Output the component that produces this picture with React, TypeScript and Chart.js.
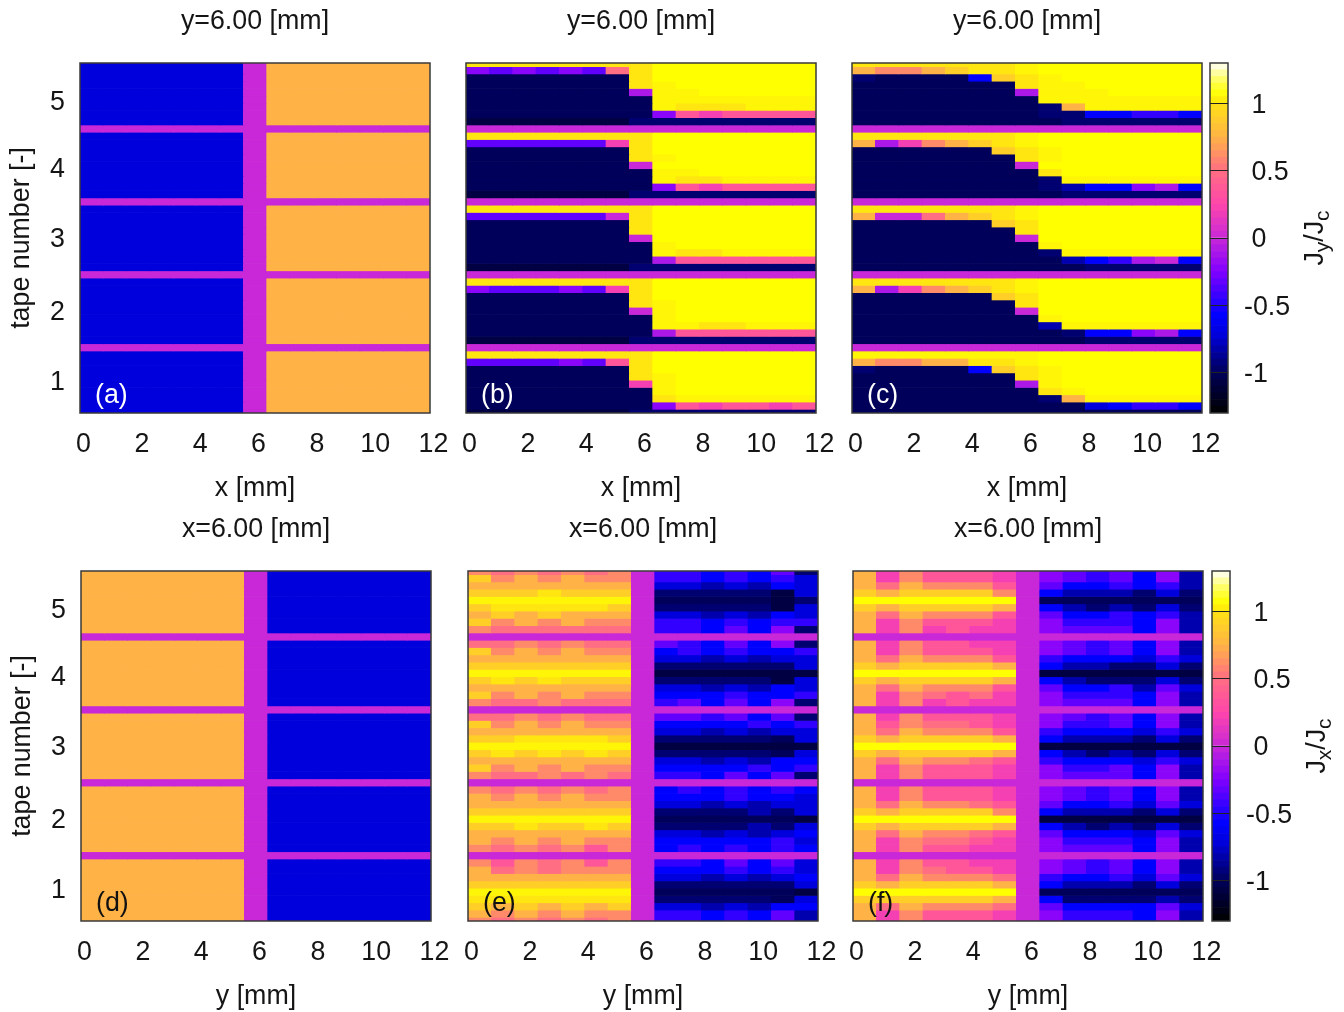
import React, { useEffect, useRef } from "react";
import { Chart, registerables } from "chart.js";

Chart.register(...registerables);

const FONT = "'Liberation Sans', Arial, sans-serif";
const FS = 26.8;
const INK = "#151515";

// value of each shade letter, J/Jc
const shadeValues: Record<string, number> = {
  K: -1.08, N: -1.0, M: -0.95, B: -0.82, C: -0.72, D: -0.58, E: -0.45, F: -0.33, G: -0.22, H: -0.1,
  Z: 0, P: 0.2, Q: 0.35, R: 0.5, S: 0.6, T: 0.745, U: 0.9, V: 1.01, W: 1.04, Y: 1.06,
};

const paletteStops: [number, number, number, number][] = [
  [-1.3, 0, 0, 0], [-1.0, 0, 0, 90], [-0.72, 0, 0, 220], [-0.58, 0, 0, 255], [-0.5, 30, 0, 255],
  [-0.25, 130, 0, 255], [0, 200, 40, 215], [0.25, 255, 70, 170], [0.5, 255, 110, 130],
  [0.75, 255, 180, 70], [1.0, 255, 225, 20], [1.06, 255, 255, 0], [1.15, 255, 255, 70], [1.3, 255, 255, 255],
];

const colorbarLevels = [
  -1.3, -1.25, -1.2, -1.15, -1.1, -1.05, -1.0, -0.95, -0.9, -0.85, -0.8, -0.75, -0.7, -0.65, -0.6, -0.55, -0.5,
  -0.45, -0.4, -0.35, -0.3, -0.25, -0.2, -0.15, -0.1, -0.05, 0, 0.05, 0.1, 0.15, 0.2, 0.25, 0.3, 0.35, 0.4, 0.45,
  0.5, 0.55, 0.6, 0.65, 0.7, 0.75, 0.8, 0.85, 0.9, 0.95, 1.0, 1.05, 1.1, 1.15, 1.2, 1.25,
];
const colorbarTicks = [-1, -0.5, 0, 0.5, 1];

const xTicks = [0, 2, 4, 6, 8, 10, 12];
const tapeLabels = ["1", "2", "3", "4", "5"];
const tapeLabelPositions = [1.04, 2.01, 3.01, 3.97, 4.88];
const columnCentres = [0.4, 1.2, 2.0, 2.8, 3.6, 4.4, 5.2, 6.0, 6.8, 7.6, 8.4, 9.2, 10.0, 10.8, 11.6];
const rowCentres = [
  5.4, 5.3, 5.2, 5.1, 5.0, 4.9, 4.8, 4.7, 4.6, 4.5, 4.4, 4.3, 4.2, 4.1, 4.0, 3.9, 3.8, 3.7, 3.6, 3.5, 3.4, 3.3, 3.2,
  3.1, 3.0, 2.9, 2.8, 2.7, 2.6, 2.5, 2.4, 2.3, 2.2, 2.1, 2.0, 1.9, 1.8, 1.7, 1.6, 1.5, 1.4, 1.3, 1.2, 1.1, 1.0, 0.9,
  0.8, 0.7, 0.6,
];

const band = "ZZZZZZZZZZZZZZZ";
const a_ = "CCCCCCCZTTTTTTT";
const d_ = "TTTTTTTZCCCCCCC";

const panelA = [
  a_, a_, a_, a_, a_, a_, a_, a_, a_, band, a_, a_, a_, a_, a_, a_, a_, a_, a_, band, a_, a_, a_, a_, a_, a_, a_, a_, a_,
  band, a_, a_, a_, a_, a_, a_, a_, a_, a_, band, a_, a_, a_, a_, a_, a_, a_, a_, a_,
];
const panelD = [
  d_, d_, d_, d_, d_, d_, d_, d_, d_, band, d_, d_, d_, d_, d_, d_, d_, d_, d_, band, d_, d_, d_, d_, d_, d_, d_, d_, d_,
  band, d_, d_, d_, d_, d_, d_, d_, d_, d_, band, d_, d_, d_, d_, d_, d_, d_, d_, d_,
];

const panelB = [
  "VVVVVVVVYYYYYYY", "GFGFGFRVYYYYYYY", "NNNNNNNVYYYYYYY", "NNNNNNNVWYYYYYY", "NNNNNNNHWWYYYYY",
  "NNNNNNNNWWWWWWW", "NNNNNNNNWVVVWWW", "NNNNNNNNGQPQQQQ", "KKKKKKKMMMMMMMM", band,
  "VVVVVVVVYYYYYYY", "FFFFFFPVYYYYYYY", "NNNNNNNVYYYYYYY", "NNNNNNNVWYYYYYY", "NNNNNNNZYYYYYYY",
  "NNNNNNNNWWYYYYY", "NNNNNNNNWVVWWWW", "NNNNNNNNGQPQQQQ", "KKKKKKKMMMMMMMM", band,
  "VVVVVVVVYYYYYYY", "FFFFFFZVYYYYYYY", "NNNNNNNVYYYYYYY", "NNNNNNNVYYYYYYY", "NNNNNNNZYYYYYYY",
  "NNNNNNNNWYYYYYY", "NNNNNNNNWVVWWWW", "NNNNNNNNHQQQQQQ", "KKKKKKKMMMMMMMM", band,
  "VVVVVVVVYYYYYYY", "GFFFGFPVYYYYYYY", "NNNNNNNVYYYYYYY", "NNNNNNNVWYYYYYY", "NNNNNNNZWYYYYYY",
  "NNNNNNNNWYYYYYY", "NNNNNNNNWWVVWWW", "NNNNNNNNHQQQQQQ", "KKKKKKKMMMMMMMM", band,
  "VVVVVVVVYYYYYYY", "FFFFGFQVYYYYYYY", "NNNNNNNVYYYYYYY", "NNNNNNNVWYYYYYY", "NNNNNNNPWYYYYYY",
  "NNNNNNNNWYYYYYY", "NNNNNNNNVWWWWWW", "NNNNNNNNGQPQQPQ", "KKKKKKKMMMMMMMM",
];

const panelC = [
  "VVVVVVVWYYYYYYY", "TSSTUVVWYYYYYYY", "MNNNNDUVWYYYYYY", "NNNNNNNVWWYYYYY", "NNNNNNNHWWWYYYY",
  "NNNNNNNNWWWWWWW", "NNNNNNNNMTWWWWW", "NNNNNNNNMMDDEED", "NNNNNNNNNMMMMMM", band,
  "VVVVVVVWYYYYYYY", "THPSTUVWYYYYYYY", "NNNNNNUVWYYYYYY", "NNNNNNNVWYYYYYY", "NNNNNNNZYYYYYYY",
  "NNNNNNNNVYYYYYY", "NNNNNNNNMWWWWWW", "NNNNNNNNMBDDGHD", "NNNNNNNNNMMMMMM", band,
  "VVVVVVVWYYYYYYY", "TZZRTUVWYYYYYYY", "NNNNNNUVYYYYYYY", "NNNNNNNVYYYYYYY", "NNNNNNNZYYYYYYY",
  "NNNNNNNNWYYYYYY", "NNNNNNNNMWWWWWW", "NNNNNNNNNBDEHZD", "NNNNNNNNNNMMMMM", band,
  "VVVVVVVWYYYYYYY", "THPSTUVWYYYYYYY", "NNNNNNUVYYYYYYY", "NNNNNNNVYYYYYYY", "NNNNNNNZYYYYYYY",
  "NNNNNNNNWYYYYYY", "NNNNNNNNBWWWWWW", "NNNNNNNNNMDDGHD", "NNNNNNNNNNMMMMM", band,
  "WWWWWWWWYYYYYYY", "TSSTTVVWYYYYYYY", "MNNNNDUVWYYYYYY", "NNNNNNNVWYYYYYY", "NNNNNNNHWYYYYYY",
  "NNNNNNNNVWYYYYY", "NNNNNNNNMTWWWWW", "NNNNNNNNNNCDEED", "NNNNNNNNNNNNNNN",
];

const panelE = [
  "SRSRSRSZEEDEDFM", "USTSTSSZEEDEDEC", "TTTTTTTZCCBCBDC", "UUUVUUUZMMMMMKC", "WWWWWWWZNNNNNKM",
  "UVVVVVUZMMMMMKC", "TUTUTTTZCCBCBDC", "USTSTSSZEEDEDEE", "SRRRRRRZEEDFDGM", band,
  "RRSRSRRZFEDFDGM", "USTSTSSZDEDEDDE", "TTTTTTTZCCBCBCC", "UUUUUUUZMMMMMMC", "WWWWWWWZKKKKKKK",
  "UVUVUUUZMMMMMKC", "TTTTTTTZCCBCBDC", "USTSTSSZDDDEDDE", "SRRSRRRZEFDFDGM", band,
  "RRSRSRRZFFEFDFM", "USTSTSSZDDDDEDE", "TTTTTTTZCCBCBCC", "UUVVVVUZMMMMMNC", "WWWWWWWZKKKKKKK",
  "UVUVUVUZMMMMMNC", "TTTTTTTZCCBCBDD", "USTSTSSZDDDDEDE", "SRRSRSRZEEDFDFM", band,
  "SRSRSRSZDEDEDED", "TSTSTSSZDDDEDDC", "TTTTTTTZCCBCBCC", "UUUUUUUZMMMMBMC", "WWWWWWWZNNNNNNK",
  "UUVUUVUZMMMMBMC", "TTTTTTTZCCBCBCD", "TSTSTSSZDDDDDEC", "SRSRSQSZDEDEDED", band,
  "SQSRSQSZEEDFDFC", "TRSRSSSZDDDEDEC", "TTTTTTTZCCBCBCD", "UUUUUUUZMMMMMMC", "WWWWWWWZNNNNNNK",
  "VVVVVVVZMMMMMNC", "UTUTUTUZCCBCBDD", "TSTSTSSZEEDEDFB", "SRSRSRSZEEDEDFB",
];

const panelF = [
  "TPSQQQPZGFEFDGB", "TPSQQQPZGFEFDGB", "TRTSSSQZFDDEDEB", "UTUUUUSZDBBBMCM", "YYYYYYYZNNNNNNN",
  "UTUUUUTZDBMBMCM", "TRTSSSQZFDDEDEB", "TPSQQQPZGEEEDGB", "TPSPQPPZGFFFDGB", band,
  "TPSQQPPZGFEFDGB", "TPSQQQPZGFEFDGB", "TRTSSSQZEDDDCEC", "UTUUUUTZDBBMMCM", "YYYYYYYZKKKKKKK",
  "UTUUUUTZDBMMMCM", "TRTSSSQZFDDEBFC", "TPSRQRPZGEEEDGB", "TPSPQPPZGFFFDGB", band,
  "TPSQQQPZGFEFDGB", "TQSRRQPZGEEFDGB", "TRTSSSQZEDDDCEC", "UTUUUUTZDBBBMCM", "YYYYYYYZKKKKKKK",
  "UTUUUUTZDBMBMCM", "TRTSSRQZEDDDCEC", "TPSQQQPZGEEFDGB", "TPSQQQPZGFFFDGB", band,
  "TPSQQQPZGFEFDGB", "TPSQQQPZGFEFDGB", "TRTSSRQZFDDECFC", "UTUUUUSZDBBBMCM", "YYYYYYYZKKKKKKK",
  "UTUUUUTZDBMBMCM", "TRTSSRQZFDDDCFC", "TPSRRQPZGEEEDGB", "TPSQQPPZGFFFDGB", band,
  "TPSQQPPZGFEFDGB", "TPSRQQPZGFEFDGB", "TRTSSSRZEDDECFC", "UTUUUUTZDBBBMCM", "YYYYYYYZNNNNNNN",
  "UUUUUUTZDMMMMBM", "TRTSSSRZFDDDDFC", "TPSQQQPZGEEEDGB", "TPSQQQPZGEEEDGB",
];

function colourOf(v: number): string {
  for (let i = 1; i < paletteStops.length; i++) {
    const [v1, r1, g1, b1] = paletteStops[i];
    const [v0, r0, g0, b0] = paletteStops[i - 1];
    if (v <= v1) {
      const t = (v - v0) / (v1 - v0);
      return `rgb(${Math.round(r0 + (r1 - r0) * t)},${Math.round(g0 + (g1 - g0) * t)},${Math.round(b0 + (b1 - b0) * t)})`;
    }
  }
  return "rgb(255,255,255)";
}

const framePlugin = {
  id: "frame",
  afterDatasetsDraw(chart: any) {
    const { left, top, width, height } = chart.chartArea;
    const ctx = chart.ctx;
    ctx.save();
    ctx.strokeStyle = "#3a3a3a";
    ctx.lineWidth = 1.5;
    ctx.strokeRect(left, top, width, height);
    ctx.restore();
  },
};

const panelTagPlugin = {
  id: "panelTag",
  afterDatasetsDraw(chart: any, _args: any, opts: any) {
    const ctx = chart.ctx;
    ctx.save();
    ctx.font = `${FS}px ${FONT}`;
    ctx.fillStyle = opts.color;
    ctx.textBaseline = "middle";
    ctx.textAlign = "left";
    ctx.fillText(opts.text, chart.chartArea.left + 15, chart.chartArea.bottom - 17);
    ctx.restore();
  },
};

const barTitlePlugin = {
  id: "barTitle",
  afterDraw(chart: any, _args: any, opts: any) {
    const ctx = chart.ctx;
    const parts: string[] = opts.parts;
    const big = `${FS}px ${FONT}`;
    const small = `${FS * 0.78}px ${FONT}`;
    ctx.save();
    ctx.font = big;
    let total = 0;
    parts.forEach((p, i) => {
      ctx.font = i % 2 ? small : big;
      total += ctx.measureText(p).width;
    });
    ctx.translate(chart.chartArea.right + 87, (chart.chartArea.top + chart.chartArea.bottom) / 2);
    ctx.rotate(-Math.PI / 2);
    ctx.fillStyle = INK;
    ctx.textAlign = "left";
    ctx.textBaseline = "alphabetic";
    let x = -total / 2;
    parts.forEach((p, i) => {
      ctx.font = i % 2 ? small : big;
      ctx.fillText(p, x, i % 2 ? 14 : 8);
      x += ctx.measureText(p).width;
    });
    ctx.restore();
  },
};

type PanelProps = {
  left: number;
  top: number;
  rows: string[];
  title: string;
  xName: string;
  tag: string;
  tagColor: string;
  showTape: boolean;
};

function HeatPanel({ left, top, rows, title, xName, tag, tagColor, showTape }: PanelProps) {
  const ref = useRef<HTMLCanvasElement>(null);
  useEffect(() => {
    const datasets = rows.map((row, r) => ({
      xAxisID: "x",
      yAxisID: "y",
      data: columnCentres.map((x) => ({ x, y: [rowCentres[r] - 0.05, rowCentres[r] + 0.05] })),
      backgroundColor: columnCentres.map((_, c) => colourOf(shadeValues[row[c]])),
      borderWidth: 0,
      barPercentage: 1,
      categoryPercentage: 1,
      grouped: false,
    }));
    const chart = new Chart(ref.current as HTMLCanvasElement, {
      type: "bar",
      data: { datasets } as any,
      plugins: [framePlugin, panelTagPlugin],
      options: {
        animation: false,
        responsive: false,
        events: [],
        plugins: {
          legend: { display: false },
          tooltip: { enabled: false },
          title: {
            display: true,
            text: title,
            color: INK,
            font: { family: FONT, size: FS, weight: "normal", lineHeight: 1.2 },
            padding: { top: 6, bottom: 24.84 },
          },
          panelTag: { text: tag, color: tagColor },
        } as any,
        scales: {
          x: {
            type: "linear",
            min: 0,
            max: 12,
            offset: false,
            grid: { display: false, drawTicks: false },
            border: { display: false },
            afterFit: (s: any) => { s.height = 92; },
            afterBuildTicks: (s: any) => { s.ticks = xTicks.map((value) => ({ value })); },
            ticks: {
              color: INK,
              font: { family: FONT, size: FS },
              padding: 16,
              labelOffset: 3.5,
              maxRotation: 0,
              autoSkip: false,
            },
            title: {
              display: true,
              text: xName,
              color: INK,
              font: { family: FONT, size: FS, lineHeight: 1.2 },
              padding: { top: 0, bottom: 0 },
            },
          },
          y: {
            type: "linear",
            min: 0.6,
            max: 5.4,
            grid: { display: false, drawTicks: false },
            border: { display: false },
            afterFit: (s: any) => { s.width = 80; },
            afterBuildTicks: (s: any) => { s.ticks = tapeLabelPositions.map((value) => ({ value })); },
            ticks: {
              display: showTape,
              color: INK,
              font: { family: FONT, size: FS },
              padding: 15,
              labelOffset: 2,
              autoSkip: false,
              callback: (_v: any, i: number) => tapeLabels[i],
            },
            title: {
              display: showTape,
              text: "tape number [-]",
              color: INK,
              font: { family: FONT, size: FS, lineHeight: 1.2 },
              padding: { top: 6, bottom: 0 },
            },
          },
          spacer: {
            type: "linear",
            axis: "y",
            position: "right",
            grid: { display: false, drawTicks: false },
            border: { display: false },
            ticks: { display: false },
            afterFit: (s: any) => { s.width = 80; },
          },
        },
      } as any,
    });
    return () => chart.destroy();
  }, []);
  return (
    <canvas
      ref={ref}
      width={510}
      height={505}
      style={{ position: "absolute", left: left - 80, top: top - 63, width: 510, height: 505 }}
    />
  );
}

function ColorBar({ left, top, parts }: { left: number; top: number; parts: string[] }) {
  const ref = useRef<HTMLCanvasElement>(null);
  useEffect(() => {
    const datasets = colorbarLevels.map((lv) => ({
      data: [{ x: 0.5, y: [lv, lv + 0.05] }],
      backgroundColor: colourOf(lv + 0.025),
      borderWidth: 0,
      barPercentage: 1,
      categoryPercentage: 1,
      grouped: false,
    }));
    const chart = new Chart(ref.current as HTMLCanvasElement, {
      type: "bar",
      data: { datasets } as any,
      plugins: [framePlugin, barTitlePlugin],
      options: {
        animation: false,
        responsive: false,
        events: [],
        layout: { padding: { left: 10, top: 63, bottom: 90 } },
        plugins: {
          legend: { display: false },
          tooltip: { enabled: false },
          barTitle: { parts },
        } as any,
        scales: {
          x: { type: "linear", min: 0, max: 1, display: false, offset: false },
          y: {
            type: "linear",
            position: "right",
            min: -1.3,
            max: 1.3,
            grid: { display: true, drawTicks: false, color: "#222", lineWidth: 1, z: 1 },
            border: { display: false },
            afterFit: (s: any) => { s.width = 112; },
            afterBuildTicks: (s: any) => { s.ticks = colorbarTicks.map((value) => ({ value })); },
            ticks: {
              color: INK,
              font: { family: FONT, size: FS },
              padding: 16,
              labelOffset: 2,
              autoSkip: false,
              callback: (v: any) => (v < 0 ? String(v) : " " + v),
            },
          },
        },
      } as any,
    });
    return () => chart.destroy();
  }, []);
  return (
    <canvas
      ref={ref}
      width={140}
      height={503}
      style={{ position: "absolute", left: left - 10, top: top - 63, width: 140, height: 503 }}
    />
  );
}

export default function App() {
  return (
    <div style={{ position: "absolute", left: 0, top: 0, width: 1344, height: 1012, background: "#fff", overflow: "hidden" }}>
      <HeatPanel left={80} top={63} rows={panelA} title="y=6.00 [mm]" xName="x [mm]" tag="(a)" tagColor="#fff" showTape />
      <HeatPanel left={466} top={63} rows={panelB} title="y=6.00 [mm]" xName="x [mm]" tag="(b)" tagColor="#fff" showTape={false} />
      <HeatPanel left={852} top={63} rows={panelC} title="y=6.00 [mm]" xName="x [mm]" tag="(c)" tagColor="#fff" showTape={false} />
      <HeatPanel left={81} top={571} rows={panelD} title="x=6.00 [mm]" xName="y [mm]" tag="(d)" tagColor="#111" showTape />
      <HeatPanel left={468} top={571} rows={panelE} title="x=6.00 [mm]" xName="y [mm]" tag="(e)" tagColor="#111" showTape={false} />
      <HeatPanel left={853} top={571} rows={panelF} title="x=6.00 [mm]" xName="y [mm]" tag="(f)" tagColor="#111" showTape={false} />
      <ColorBar left={1210} top={63} parts={["J", "y", "/J", "c"]} />
      <ColorBar left={1212} top={571} parts={["J", "x", "/J", "c"]} />
    </div>
  );
}
